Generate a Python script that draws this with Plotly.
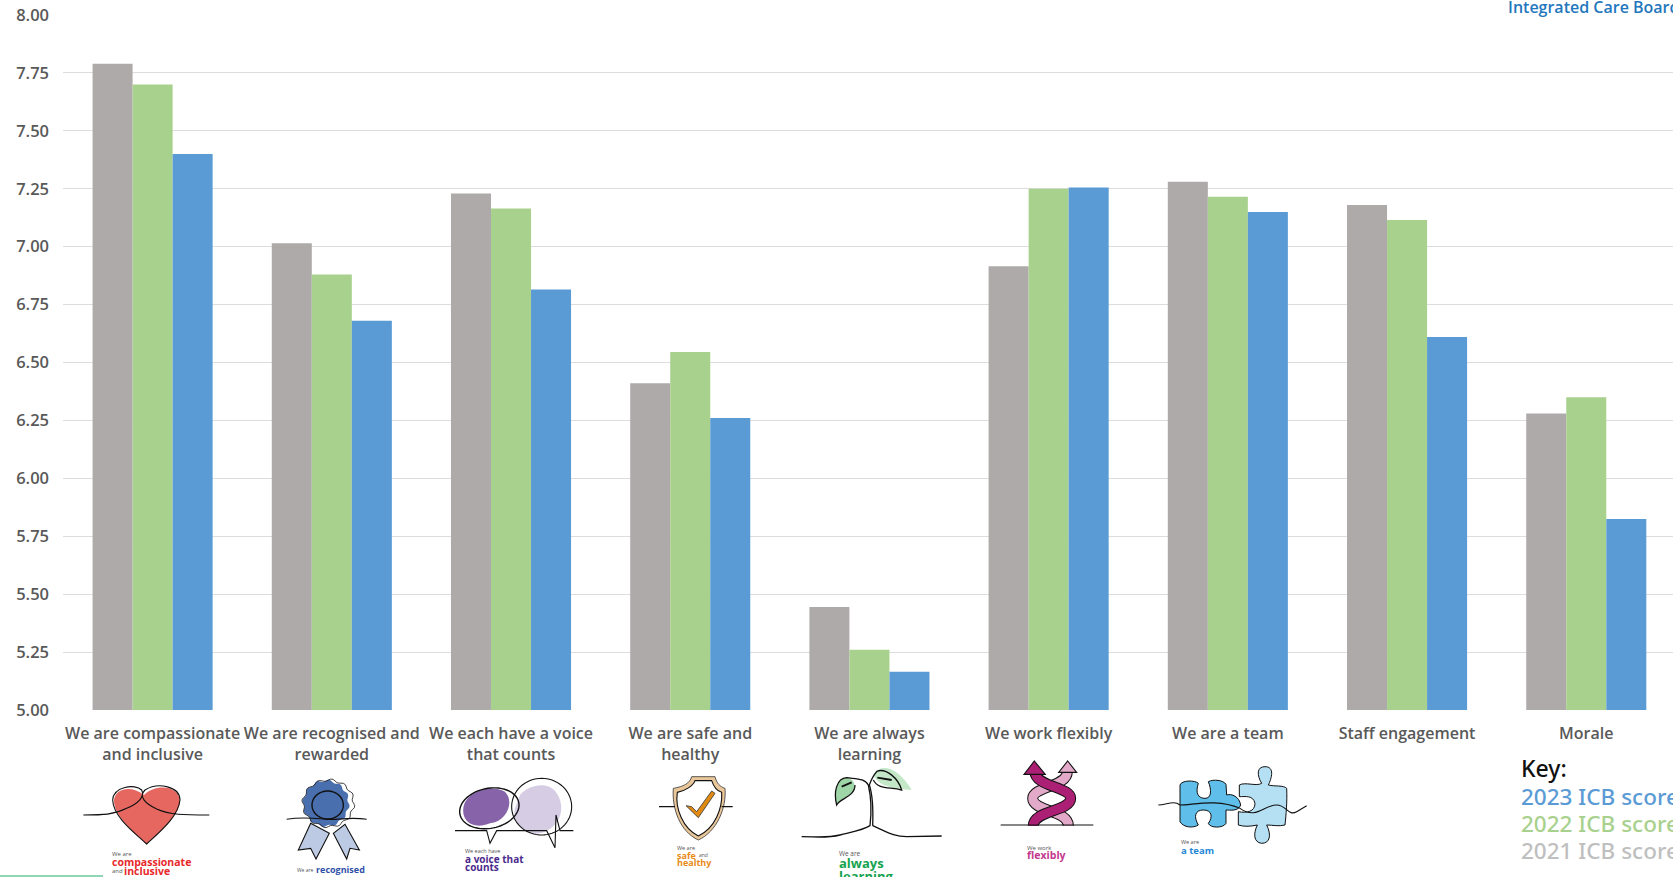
import math
import re
import plotly.graph_objects as go

# Staff survey theme scores for the ICB, 2021 to 2023
categories = [
    "We are compassionate<br>and inclusive",
    "We are recognised and<br>rewarded",
    "We each have a voice<br>that counts",
    "We are safe and<br>healthy",
    "We are always<br>learning",
    "We work flexibly",
    "We are a team",
    "Staff engagement",
    "Morale",
]
scores_2021 = [7.79, 7.015, 7.23, 6.41, 5.445, 6.915, 7.28, 7.18, 6.28]
scores_2022 = [7.70, 6.88, 7.165, 6.545, 5.26, 7.25, 7.215, 7.115, 6.35]
scores_2023 = [7.40, 6.68, 6.815, 6.26, 5.165, 7.255, 7.15, 6.61, 5.825]
series_names = ["2021 ICB score", "2022 ICB score", "2023 ICB score"]
y_ticks = [5 + 0.25 * i for i in range(13)]

GREY, GREEN, BLUE = "#aeaaaa", "#a9d18e", "#5b9bd5"
FONT = "Open Sans"
W, H = 1673, 877
LEFT, RIGHT_EDGE, TOP, BOTTOM = 63, 1673, 15, 710


def px(x):
    return (x - LEFT) / (RIGHT_EDGE - LEFT)


def py(y):
    return (BOTTOM - y) / (BOTTOM - TOP)


def path(d, ox, oy, s=1 / 3):
    """Convert an absolute SVG path given in local icon units to paper coordinates."""
    out, is_x = [], True
    for tok in re.findall(r"[A-Za-z]|-?\d+\.?\d*", d):
        if tok.isalpha():
            out.append(tok)
        else:
            v = float(tok)
            out.append(f"{px(ox + v * s):.5f}" if is_x else f"{py(oy + v * s):.5f}")
            is_x = not is_x
    return " ".join(out)


def ellipse_d(cx, cy, rx, ry, tilt=0.0, wobble=0.0, lobes=0, n=72):
    pts = []
    for i in range(n):
        t = 2 * math.pi * i / n
        k = 1 + wobble * math.sin(lobes * t)
        ex, ey = rx * k * math.cos(t), ry * k * math.sin(t)
        pts.append((cx + ex * math.cos(tilt) - ey * math.sin(tilt),
                    cy + ex * math.sin(tilt) + ey * math.cos(tilt)))
    return "M" + " L".join(f"{a:.1f} {b:.1f}" for a, b in pts) + " Z"


shapes = []


def add(d, ox, oy, fill=None, line="#111111", width=1.1):
    shapes.append(dict(
        type="path", xref="paper", yref="paper", layer="above",
        path=path(d, ox, oy),
        fillcolor=fill if fill else "rgba(0,0,0,0)",
        line=dict(color=line if line else "rgba(0,0,0,0)", width=width if line else 0),
    ))


# Heart
o = (70, 765)
add("M230 237 C190 200 135 155 132 110 C130 75 178 55 222 90 C255 55 330 60 330 110 C325 155 270 200 230 237 Z",
    *o, fill="#e5675f", line=None)
add("M40 150 C100 150 130 150 170 130 C205 115 225 95 215 75 C195 55 130 65 128 105 C130 155 190 200 230 237 "
    "C270 200 325 155 330 105 C330 65 265 50 225 75 C205 95 225 115 260 132 C300 150 340 150 418 150", *o)

# Rosette
add("M722 175 L685 255 L722 250 L738 282 L778 205 Z", *o, fill="#bccbe3")
add("M790 205 L830 282 L840 250 L868 255 L825 178 Z", *o, fill="#bccbe3")
add(ellipse_d(768, 115, 68, 68, wobble=0.05, lobes=12), *o, fill="#4a6fae", line=None)
add(ellipse_d(775, 115, 76, 70, wobble=0.05, lobes=12), *o, width=0.8)
add(ellipse_d(773, 120, 47, 42), *o, width=1.4)
add("M650 163 C700 155 730 160 770 163 C810 165 840 155 890 163", *o)

# Speech bubbles
o = (440, 765)
add("M70 130 C75 80 150 55 195 80 C225 110 200 170 150 175 C100 195 65 170 70 130 Z", *o, fill="#8764a9", line=None)
add("M240 90 C270 55 330 50 350 85 C380 130 360 190 300 205 C250 215 215 170 225 130 Z", *o, fill="#d6cde5", line=None)
add(ellipse_d(148, 130, 90, 60, tilt=-0.2), *o, width=1.4)
add(ellipse_d(305, 125, 90, 85), *o, width=1.1)
add("M45 197 L140 197 L150 235 L170 197 L320 197 L345 248 L348 150 L360 197 L400 197", *o)

# Shield with tick
add("M700 70 C730 65 750 55 755 35 L825 35 C830 55 840 65 855 70 C860 130 830 200 775 225 C720 200 695 130 700 70 Z",
    *o, fill="#eac79a", line="#333333", width=0.8)
add("M712 82 C735 78 760 62 765 47 L815 47 C820 62 830 78 845 82 C848 130 825 190 775 213 C728 190 705 130 712 82 Z",
    *o, fill="#ffffff")
add("M657 125 L705 125 M845 125 L878 125", *o)
add("M738 122 L755 125 L770 140 L815 78 L825 85 L775 158 Z", *o, fill="#e08a12", line="#333333", width=0.8)

# Seedling
o = (790, 755)
add("M250 60 C270 25 320 30 365 105 C320 100 270 100 250 60 Z", *o, fill="#c3e7c7", line=None)
add("M140 150 C130 110 140 70 170 68 C190 70 200 90 190 110 C175 125 150 130 140 150 Z", *o, fill="#9fd6a8", line=None)
add("M35 245 C80 245 110 250 150 240 C190 230 220 225 240 212 C246 160 242 120 235 90 C225 70 200 72 170 68 "
    "C140 70 130 110 140 150 C150 130 195 125 195 90", *o, width=1.3)
add("M248 212 C290 230 310 245 350 245 L455 243", *o, width=1.3)
add("M248 212 C250 160 248 120 238 90 C245 70 250 60 262 48 C290 40 325 70 335 105 C300 95 265 105 250 75", *o, width=1.3)
add("M262 68 L305 75 M155 95 L185 82", *o, width=1.8)

# Crossing arrows
light = "M832 50 C832 95 728 95 728 130 C728 170 835 165 835 212"
dark = "M735 50 C735 95 842 95 842 130 C842 170 730 165 730 212"
add(light, *o, line="#111111", width=11)
add(light, *o, line="#e2a9c9", width=9)
add(dark, *o, line="#111111", width=11)
add(dark, *o, line="#ab1f74", width=9)
add("M733 18 L766 58 L702 58 Z", *o, fill="#ab1f74")
add("M833 18 L860 52 L806 52 Z", *o, fill="#e2a9c9")
add("M632 210 L910 210", *o)

# Puzzle pieces
o = (1150, 755)
add("M90 90 C95 75 135 75 145 85 C135 115 145 130 165 130 C185 130 185 105 175 80 C190 72 220 75 228 88 L230 120 "
    "C245 115 268 125 272 150 C265 170 240 165 228 165 L228 205 C220 220 180 220 175 205 C190 185 185 165 160 165 "
    "C135 165 130 185 145 210 C130 220 100 218 90 200 Z", *o, fill="#5fbfea", width=1)
add("M268 90 C285 80 320 95 335 85 C320 60 320 35 345 35 C375 35 365 70 355 90 C375 95 400 90 410 100 "
    "C412 140 408 180 405 210 C385 215 370 210 350 210 C365 240 360 265 335 265 C310 262 310 235 322 210 "
    "C300 215 280 215 265 210 L265 170 C290 175 315 170 315 145 C310 120 285 125 268 125 Z",
    *o, fill="#b5e0f3", width=1)
add("M25 150 C50 150 70 135 90 150 C130 150 200 130 270 160 C320 195 340 150 380 150 C410 150 415 185 440 170 L470 152",
    *o)

# Thin accent along the lower-left edge
shapes.append(dict(type="rect", xref="paper", yref="paper", layer="above",
                   x0=px(0), x1=px(103), y0=py(877), y1=py(875),
                   fillcolor="#8fd6b5", line=dict(width=0)))

annotations = []


def note(text, x, y, size, color, bold=False, font=FONT, weight=None):
    annotations.append(dict(
        xref="paper", yref="paper", x=px(x), y=py(y), xanchor="left", yanchor="middle",
        text=f"<b>{text}</b>" if bold else text, showarrow=False, align="left",
        font=dict(family=font, size=size, color=color, weight=weight or "normal"),
        borderpad=0, borderwidth=0,
    ))


# Caption text under each icon
note("We are", 112, 854, 6, "#555555")
note("compassionate", 112, 862, 10.5, "#e8282b", True)
note("and", 112, 871, 6, "#555555")
note("inclusive", 124, 871, 10.5, "#e8282b", True)
note("We are", 297, 870, 5, "#555555")
note("recognised", 316, 870, 9, "#2f50a8", True)
note("We each have", 465, 851, 5.5, "#555555")
note("a voice that", 465, 859, 10, "#4b2a8c", True)
note("counts", 465, 867, 10, "#4b2a8c", True)
note("We are", 677, 848, 5.5, "#555555")
note("safe", 677, 855, 9, "#e88a1a", True)
note("and", 699, 855, 5, "#555555")
note("healthy", 677, 862, 9, "#e88a1a", True)
note("We are", 839, 853, 6.5, "#555555")
note("always", 839, 863, 13, "#16a34f", True)
note("learning", 839, 876, 13, "#16a34f", True)
note("We work", 1027, 848, 6, "#555555")
note("flexibly", 1027, 855, 10.5, "#c4388e", True)
note("We are", 1181, 842, 5.5, "#555555")
note("a team", 1181, 850, 9.5, "#1e88d8", True)

# Heading fragment and the key
note("Integrated Care Board", 1508, 7, 16, "#1f77bd", False, FONT, 600)
note("Key:", 1521, 768, 23, "#111111", False, "Noto Sans", 500)
note(series_names[2], 1521, 796, 22.5, BLUE, False, "Noto Sans", 500)
note(series_names[1], 1521, 823, 22.5, GREEN, False, "Noto Sans", 500)
note(series_names[0], 1521, 850, 22.5, "#bfbfbf", False, "Noto Sans", 500)

fig = go.Figure()
for name, values, colour in zip(series_names, [scores_2021, scores_2022, scores_2023], [GREY, GREEN, BLUE]):
    fig.add_trace(go.Bar(name=name, x=categories, y=values, marker=dict(color=colour, line=dict(width=0))))

fig.update_layout(
    width=W, height=H,
    margin=dict(l=LEFT, r=W - RIGHT_EDGE, t=TOP, b=H - BOTTOM, pad=0, autoexpand=False),
    paper_bgcolor="white", plot_bgcolor="white",
    barmode="group", bargap=0.33, bargroupgap=0,
    showlegend=False,
    shapes=shapes, annotations=annotations,
    font=dict(family=FONT, size=16, color="#595959"),
    xaxis=dict(type="category", categoryorder="array", categoryarray=categories,
               range=[-0.5, 8.484], showgrid=False, showline=False, zeroline=False,
               ticks="", ticklabelstandoff=12, tickangle=0,
               tickfont=dict(family=FONT, size=16, color="#595959", weight=600)),
    yaxis=dict(range=[5, 8], tickmode="array", tickvals=y_ticks,
               ticktext=[f"{v:.2f}" for v in y_ticks],
               showgrid=True, gridcolor="#dddddd", gridwidth=1.4, zeroline=False, showline=False,
               ticks="", ticklabelstandoff=13,
               tickfont=dict(family=FONT, size=16.5, color="#595959", weight=600)),
)

fig.write_html("out.html")
